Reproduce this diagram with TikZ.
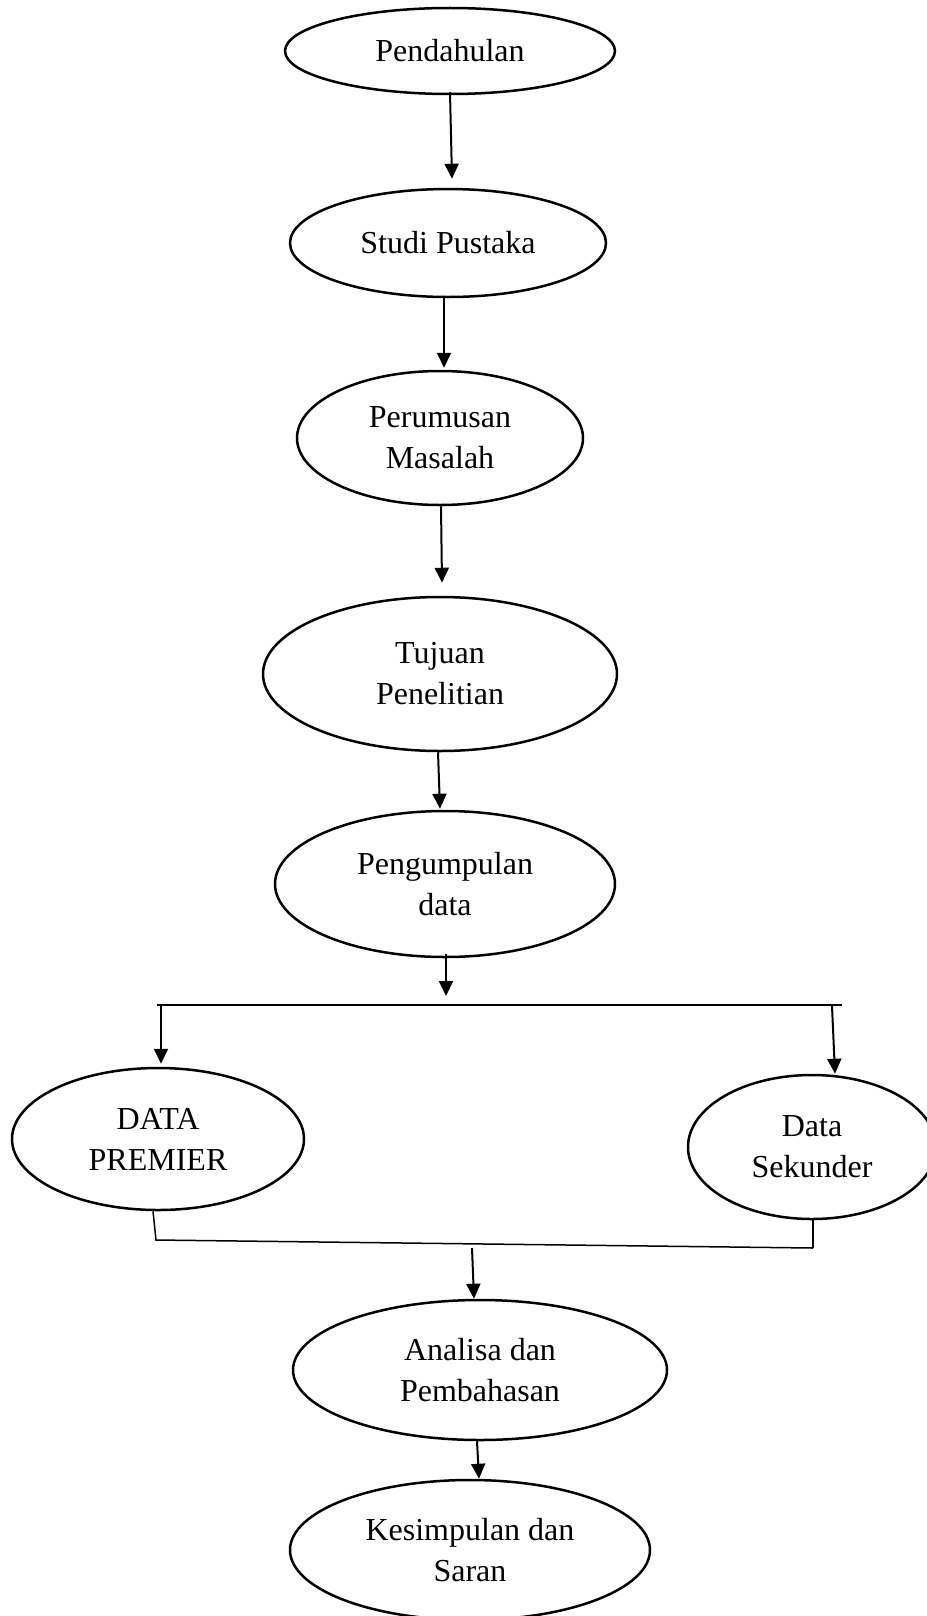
\documentclass[tikz,border=0pt]{standalone}
\usepackage{fontspec}
\setmainfont{Liberation Serif}
\usetikzlibrary{shapes.geometric,arrows.meta}
\begin{document}
\begin{tikzpicture}[x=0.5pt,y=-0.5pt,
  oval/.style={ellipse,draw,line width=1.25pt,inner sep=0pt,align=center,
    font=\fontsize{16}{20.5}\selectfont},
  arr/.style={-{Triangle[length=7.5pt,width=7pt]},line width=1pt},
  ln/.style={line width=0.75pt}]
\useasboundingbox (0,0) rectangle (926,1616);
\node[oval,minimum width=165pt,minimum height=43pt] (p1) at (450,51) {Pendahulan};
\node[oval,minimum width=158pt,minimum height=54pt] (p2) at (448,243) {Studi Pustaka};
\node[oval,minimum width=143pt,minimum height=67pt] (p3) at (440,438) {Perumusan\\Masalah};
\node[oval,minimum width=177pt,minimum height=77pt] (p4) at (440,674) {Tujuan\\Penelitian};
\node[oval,minimum width=170pt,minimum height=73pt] (p5) at (445,884) {Pengumpulan\\data};
\node[oval,minimum width=146pt,minimum height=71pt] (p6) at (158,1139) {DATA\\PREMIER};
\node[oval,minimum width=124pt,minimum height=72pt] (p7) at (812,1147) {Data\\Sekunder};
\node[oval,minimum width=187pt,minimum height=70pt] (p8) at (480,1370) {Analisa dan\\Pembahasan};
\node[oval,minimum width=180pt,minimum height=70pt] (p9) at (470,1550) {Kesimpulan dan\\Saran};
% straight chain
\draw[arr] ([yshift=1.5pt]p1.south) -- ([xshift=2pt,yshift=4.5pt]p2.north);
\draw[arr] ([xshift=-2pt]p2.south) -- ([xshift=2pt,yshift=1pt]p3.north);
\draw[arr] ([xshift=0.5pt]p3.south) -- ([xshift=1pt,yshift=6.5pt]p4.north);
\draw[arr] ([xshift=-1pt]p4.south) -- ([xshift=-2.5pt,yshift=0.5pt]p5.north);
% split
\coordinate (j1) at (446,996);
\coordinate (hl) at (157,1005);
\coordinate (hr) at (842,1005);
\coordinate (hla) at (161,1006);
\coordinate (hra) at (832,1006);
\draw[arr] ([xshift=0.5pt,yshift=2pt]p5.south) -- (j1);
\draw[ln] (hl) -- (hr);
\draw[arr] (hla) -- ([xshift=1.5pt,yshift=1.5pt]p6.north);
\draw[arr] (hra) -- ([xshift=11.5pt]p7.north);
% join
\coordinate (bl) at (156,1240);
\coordinate (br) at (813,1248);
\coordinate (j2) at (472,1248);
\draw[ln] ([xshift=-2.5pt]p6.south) -- (bl) -- (br);
\draw[ln] ([xshift=0.5pt]p7.south) -- (br);
\draw[arr] (j2) -- ([xshift=-3pt]p8.north);
\draw[arr] ([xshift=-1.5pt]p8.south) -- ([xshift=4.5pt]p9.north);
\end{tikzpicture}
\end{document}
